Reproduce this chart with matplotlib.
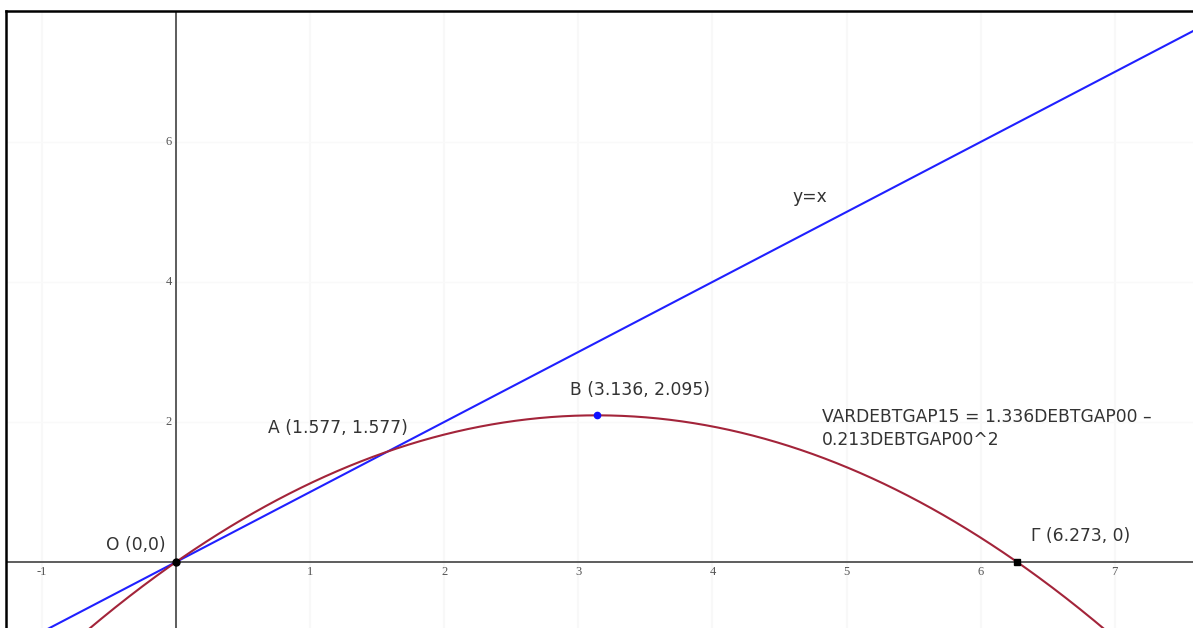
import numpy as np
import matplotlib
matplotlib.use("Agg")
import matplotlib.pyplot as plt

# Fitted quadratic: VARDEBTGAP15 = a*DEBTGAP00 + b*DEBTGAP00^2
coef_lin = 1.336
coef_quad = -0.213

# Labelled points
point_names = ["O", "A", "B", "Γ"]
point_x = [0.0, 1.577, 3.136, 6.273]
point_y = [0.0, 1.577, 2.095, 0.0]

x_ticks = [-1, 1, 2, 3, 4, 5, 6, 7]
y_ticks = [2, 4, 6]

xmin, xmax = -1.268, 7.584
ymin, ymax = -0.943, 7.871

W, H = 1193, 628
fig = plt.figure(figsize=(W / 100, H / 100), dpi=100)
ax = fig.add_axes([6 / W, 0, 1 - 6 / W, 1 - 11 / H])
ax.set_xlim(xmin, xmax)
ax.set_ylim(ymin, ymax)
ax.set_xticks([])
ax.set_yticks([])
for side in ("right", "bottom"):
    ax.spines[side].set_visible(False)
for side in ("left", "top"):
    ax.spines[side].set_color("black")
    ax.spines[side].set_linewidth(1.8)

# faint grid
for gx in range(-1, 8):
    ax.axvline(gx, color="#f8f8f8", lw=1.5, zorder=0)
for gy in [2, 4, 6]:
    ax.axhline(gy, color="#f9f9f9", lw=1.0, zorder=0)

# coordinate axes
ax.axhline(0, color="#505050", lw=1.3, zorder=1)
ax.axvline(0, color="#505050", lw=1.3, zorder=1)

tick_font = dict(family="Liberation Serif", fontsize=9, color="#555555")
for t in x_ticks:
    ax.text(t, -0.15, str(t), ha="center", va="center", **tick_font)
for t in y_ticks:
    ax.text(-0.03, t, str(t), ha="right", va="center", **tick_font)

xs = np.linspace(xmin, xmax, 600)
ax.plot(xs, xs, color="#2020ff", lw=1.5, zorder=3)
ax.plot(xs, coef_lin * xs + coef_quad * xs ** 2, color="#a3243a", lw=1.5, zorder=3)

# points
ax.plot(point_x[0], point_y[0], "o", color="black", ms=5, zorder=5)
ax.plot(point_x[2], point_y[2], "o", color="#1010ff", ms=4.5, zorder=5)
ax.plot(point_x[3], point_y[3], "s", color="black", ms=4, zorder=5)

lab = dict(fontsize=12.3, color="#333333", family="DejaVu Sans", va="center")
ax.text(-0.08, 0.243, f"{point_names[0]} ({point_x[0]:g},{point_y[0]:g})", ha="right", **lab)
ax.text(0.686, 1.914, f"{point_names[1]} ({point_x[1]:.3f}, {point_y[1]:.3f})", ha="left", **lab)
ax.text(2.938, 2.457, f"{point_names[2]} ({point_x[2]:.3f}, {point_y[2]:.3f})", ha="left", **lab)
ax.text(6.376, 0.371, f"{point_names[3]} ({point_x[3]:.3f}, {point_y[3]:g})", ha="left", **lab)
ax.text(4.594, 5.214, "y=x", ha="left", **lab)
ax.text(4.817, 2.071, f"VARDEBTGAP15 = {coef_lin:.3f}DEBTGAP00 –", ha="left", **lab)
ax.text(4.817, 1.743, f"{-coef_quad:.3f}DEBTGAP00^2", ha="left", **lab)

fig.savefig("out.png", dpi=100)
